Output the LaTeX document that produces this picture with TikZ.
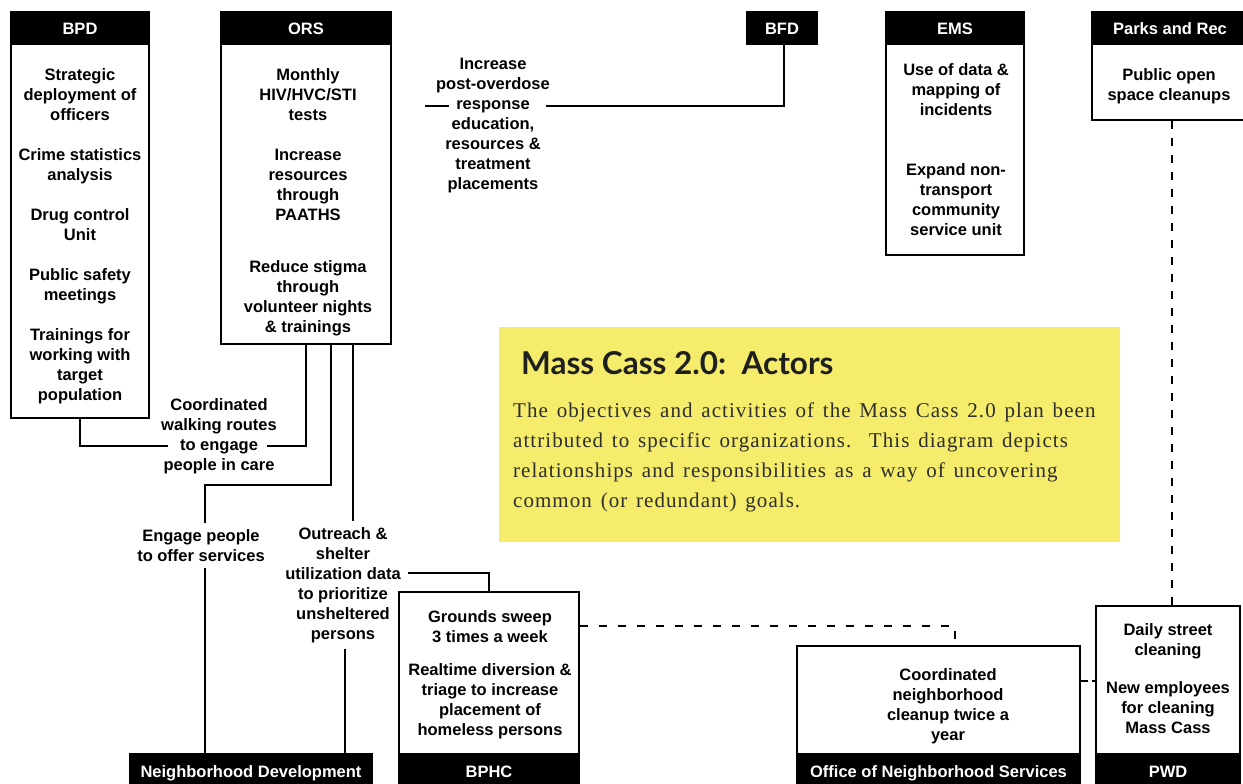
\documentclass[tikz,border=0pt]{standalone}
\usepackage{fontspec}
\newfontfamily\labfont{Liberation Sans}
\newfontfamily\titlefont{Lato}
\newfontfamily\notefont{Liberation Serif}[LetterSpace=5,WordSpace=1.4]
\usetikzlibrary{positioning}
\definecolor{noteyellow}{HTML}{F4EC6A}
\definecolor{notetext}{HTML}{2E2E2E}
\tikzset{
  orgbox/.style={draw=black,line width=1.6pt,fill=white,inner sep=0pt},
  orghead/.style={draw=black,fill=black,line width=1.6pt,text=white,inner sep=0pt,
    minimum height=32,text height=14pt,text depth=0pt,
    font=\labfont\bfseries\fontsize{16.5}{20}\selectfont},
  task/.style={anchor=north,align=center,inner sep=0pt,
    font=\labfont\bfseries\fontsize{16.5}{20}\selectfont},
  tag/.style={task,inner ysep=6pt},
  link/.style={line width=1.6pt},
  dashlink/.style={line width=1.6pt,dash pattern=on 8pt off 11pt},
}
\begin{document}
\begin{tikzpicture}[x=1pt,y=-1pt]
  \useasboundingbox (0,0) rectangle (1243,784);
  % Organisations along the top
  \node[orgbox,minimum width=138,minimum height=406] (bpd) at (80,215) {};
  \node[orghead,minimum width=138,anchor=north] (bpdh) at (bpd.north) {BPD};
  \node[task] (bpdt) at (80,68) {Strategic\\deployment of\\officers\\[20pt]Crime statistics\\analysis\\[20pt]Drug control\\Unit\\[20pt]Public safety\\meetings\\[20pt]Trainings for\\working with\\target\\population};
  \node[orgbox,minimum width=170,minimum height=332] (ors) at (306,178) {};
  \node[orghead,minimum width=170,anchor=north] (orsh) at (ors.north) {ORS};
  \node[task] (orst) at (308,68) {Monthly\\HIV/HVC/STI\\tests\\[20pt]Increase\\resources\\through\\PAATHS\\[32pt]Reduce stigma\\through\\volunteer nights\\\& trainings};
  \node[orghead,minimum width=70] (bfd) at (782,28) {BFD};
  \node[orgbox,minimum width=138,minimum height=243] (ems) at (955,133.5) {};
  \node[orghead,minimum width=138,anchor=north] (emsh) at (ems.north) {EMS};
  \node[task] (emst) at (956,63) {Use of data \&\\mapping of\\incidents\\[40pt]Expand non-\\transport\\community\\service unit};
  \node[orgbox,minimum width=156,minimum height=108] (parks) at (1170,66) {};
  \node[orghead,minimum width=156,anchor=north] (parksh) at (parks.north) {Parks and Rec};
  \node[task] (parkst) at (1169,68) {Public open\\space cleanups};
  % Organisations along the bottom
  \node[orghead,minimum width=242] (nd) at (251,770) {Neighborhood Development};
  \node[orgbox,minimum width=180,minimum height=194] (bphc) at (489,689) {};
  \node[orghead,minimum width=180,anchor=south] (bphch) at (bphc.south) {BPHC};
  \node[task] (bphct) at (490,610) {Grounds sweep\\3 times a week\\[13pt]Realtime diversion \&\\triage to increase\\placement of\\homeless persons};
  \node[orgbox,minimum width=283,minimum height=140] (ons) at (938.5,716) {};
  \node[orghead,minimum width=283,anchor=south] (onsh) at (ons.south) {Office of Neighborhood Services};
  \node[task] (onst) at (948,668) {Coordinated\\neighborhood\\cleanup twice a\\year};
  \node[orgbox,minimum width=144,minimum height=180] (pwd) at (1168,696) {};
  \node[orghead,minimum width=144,anchor=south] (pwdh) at (pwd.south) {PWD};
  \node[task] (pwdt) at (1168,623) {Daily street\\cleaning\\[18pt]New employees\\for cleaning\\Mass Cass};
  % Shared activities
  \node[task] (walk) at (219,398) {Coordinated\\walking routes\\to engage\\people in care};
  \node[tag] (engage) at (201,523) {Engage people\\to offer services};
  \node[tag] (outreach) at (343,521) {Outreach \&\\shelter\\utilization data\\to prioritize\\unsheltered\\persons};
  \node[task] (overdose) at (493,58) {Increase\\post-overdose\\response\\education,\\resources \&\\treatment\\placements};
  \coordinate (walkw) at (168,446);
  \coordinate (walke) at (267,446);
  \coordinate (outre) at (408,573);
  \coordinate (odw) at (425,106);
  \coordinate (odw2) at (449,106);
  \coordinate (ode) at (546,106);
  % Links
  \draw[link] (bpd.south) |- (walkw);
  \draw[link] (ors.south) |- (walke);
  \draw[link] ([xshift=25pt]ors.south) -- ++(0,140) -| ([xshift=4pt]engage.north);
  \draw[link] ([xshift=4pt]engage.south) -- ([xshift=4pt]engage.south |- nd.north);
  \draw[link] ([xshift=47pt]ors.south) -- ([xshift=47pt]ors.south |- outreach.north);
  \draw[link] (outre) -| (bphc.north);
  \draw[link] ([xshift=2pt]outreach.south) -- ([xshift=2pt]outreach.south |- nd.north);
  \draw[link] ([xshift=2pt]bfd.south) |- (ode);
  \draw[link] (odw) -- (odw2);
  \draw[dashlink] ([yshift=-35pt]bphc.north east) -| ([xshift=16.5pt]ons.north);
  \draw[dashlink,dash pattern=on 8pt off 9pt] ([xshift=2pt]parks.south) -- ([xshift=2pt]parks.south |- pwd.north);
  \draw[dashlink,dash pattern=on 7pt off 4pt] ([yshift=35pt]ons.east) -- ([yshift=35pt]ons.east -| pwd.west);
  % Note
  \node[fill=noteyellow,inner sep=0pt,minimum width=621,minimum height=215] (note) at (809.5,434.5) {};
  \node[anchor=base west,inner sep=0pt,text=black!88,font=\titlefont\bfseries\fontsize{31.5}{34}\selectfont] (notetitle) at (521,374) {Mass Cass 2.0:\ \ Actors};
  \node[anchor=north west,inner sep=0pt,align=left,text=notetext,font=\notefont\fontsize{21}{30}\selectfont] (notebody) at (513,403) {The objectives and activities of the Mass Cass 2.0 plan been\\attributed to specific organizations.\ \ This diagram depicts\\relationships and responsibilities as a way of uncovering\\common (or redundant) goals.};
\end{tikzpicture}
\end{document}
